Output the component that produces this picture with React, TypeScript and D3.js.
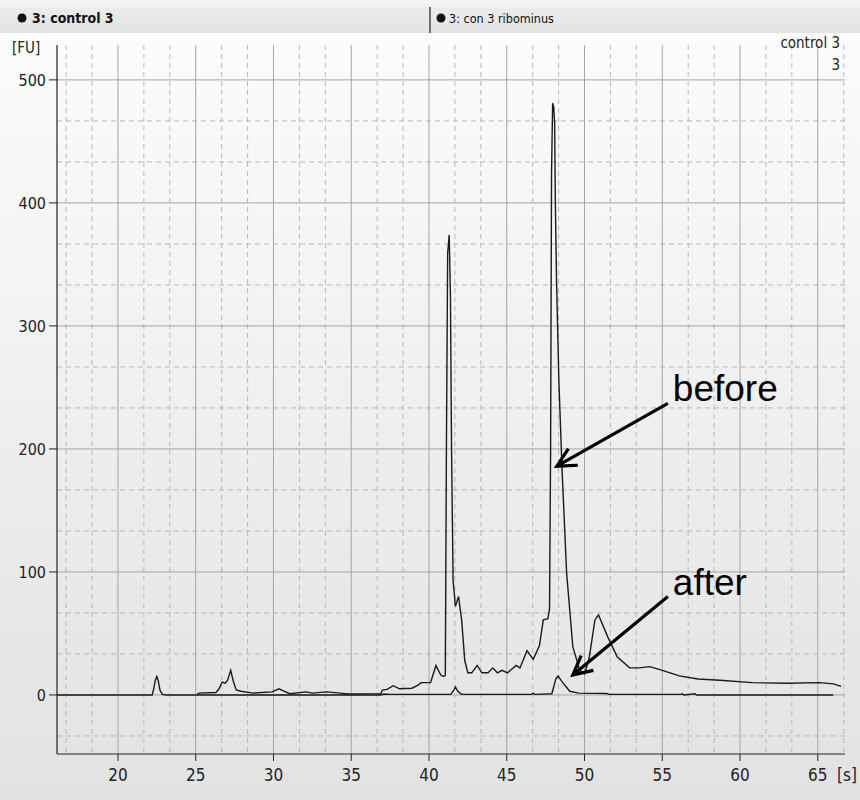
import React from "react";
import * as d3 from "d3";

// ---- data (time in s, fluorescence in FU) ----
const beforeTrace: [number, number][] = [
  [25.1, 0.5], [25.2, 1.5], [26.3, 2], [26.5, 5], [26.7, 10.5], [26.9, 9.5], [27.05, 12], [27.25, 20],
  [27.4, 12], [27.6, 4], [27.9, 3], [28.7, 1.5], [29.9, 2.5], [30.35, 5], [30.6, 3.5], [31.05, 1],
  [32.1, 2.5], [32.5, 1.5], [33.4, 2.5], [34.3, 1.5], [34.8, 0.8], [36.9, 1], [37.0, 4], [37.3, 4.5],
  [37.7, 7.5], [38.1, 5], [38.9, 5.5], [39.3, 8], [39.5, 10], [40.1, 10], [40.3, 18], [40.45, 24],
  [40.6, 20], [40.77, 16], [40.95, 15], [41.05, 16], [41.12, 200], [41.2, 359], [41.3, 374], [41.38, 324],
  [41.45, 200], [41.55, 93], [41.7, 72], [41.9, 80], [42.1, 61], [42.3, 28], [42.5, 18], [42.75, 18],
  [43.1, 24], [43.4, 18], [43.8, 18], [44.1, 22], [44.4, 18], [44.7, 20], [45.05, 18], [45.6, 24],
  [45.85, 22], [46.3, 36], [46.7, 29], [47.1, 40], [47.35, 61], [47.65, 62], [47.75, 70], [47.82, 200],
  [47.88, 424], [47.95, 481], [48.02, 478], [48.08, 465], [48.12, 405], [48.2, 337], [48.35, 256],
  [48.55, 185], [48.85, 99], [49.25, 39], [49.7, 20], [50.0, 17], [50.3, 30], [50.67, 61], [50.9, 65],
  [51.5, 47], [52.1, 31], [52.9, 22], [53.5, 22], [54.2, 23], [55.0, 20], [56.1, 15.5], [57.3, 13],
  [58.7, 12], [60.8, 10], [63.0, 9.5], [65.1, 10], [66.0, 9], [66.5, 7],
];

const afterTrace: [number, number][] = [
  [16.08, 0], [22.2, 0], [22.3, 5], [22.4, 12], [22.5, 15], [22.6, 11], [22.7, 4], [22.85, 0.5],
  [23.1, 0], [36.9, 0], [37.1, 0.8], [37.5, 0.5], [41.4, 0.5], [41.6, 4], [41.7, 6.5], [41.85, 3],
  [42.1, 0.5], [46.6, 0.5], [46.7, 1.5], [46.8, 0.5], [47.9, 1], [48.05, 8], [48.15, 13], [48.3, 15.5],
  [48.6, 10], [49.05, 3], [49.6, 1.5], [51.4, 1.2], [51.6, 0.5], [56.2, 0.5], [56.3, 1], [56.4, 0],
  [57.1, 1], [57.2, 0], [66.0, 0],
];

const xTicks = [20, 25, 30, 35, 40, 45, 50, 55, 60, 65];
const yTicks = [0, 100, 200, 300, 400, 500];
const tabLabels = ["3: control 3", "3: con 3 ribominus"];

// annotations: label, tail (s, FU), tip (s, FU)
const annotations = [
  { label: "before", tail: [55.36, 237] as [number, number], tip: [48.22, 186] as [number, number] },
  { label: "after", tail: [55.36, 80] as [number, number], tip: [49.25, 16.3] as [number, number] },
];

const W = 860;
const H = 800;

export default function App() {
  const x = d3.scaleLinear().domain([16.08, 66.75]).range([57, 845]);
  const y = d3.scaleLinear().domain([-48, 530]).range([754, 43]);
  const [x0, x1] = x.range();
  const [yb, yt] = y.range();

  const minorX: number[] = [];
  for (let k = 10; k * (5 / 3) <= 66.75; k++) {
    const v = (k * 5) / 3;
    if (k % 3 !== 0 && v > 16.08) minorX.push(v);
  }
  const minorY: number[] = [];
  for (let k = -1; (k * 100) / 3 < 530; k++) {
    if (k % 3 !== 0) minorY.push((k * 100) / 3);
  }

  const line = d3
    .line<[number, number]>()
    .x((d) => x(d[0]))
    .y((d) => y(d[1]));

  const font = "'Liberation Sans', Arial, sans-serif";
  const tickFont = "'DejaVu Sans Condensed', 'Liberation Sans', sans-serif";

  const arrowHead = (tip: [number, number], tail: [number, number]) => {
    const tx = x(tip[0]);
    const ty = y(tip[1]);
    const ang = Math.atan2(y(tail[1]) - ty, x(tail[0]) - tx);
    const len = 21;
    const spread = (27 * Math.PI) / 180;
    const p1 = [tx + len * Math.cos(ang - spread), ty + len * Math.sin(ang - spread)];
    const p2 = [tx + len * Math.cos(ang + spread), ty + len * Math.sin(ang + spread)];
    return `M${p1[0]},${p1[1]}L${tx},${ty}L${p2[0]},${p2[1]}`;
  };

  return (
    <svg width={W} height={H} style={{ position: "absolute", left: 0, top: 0 }}>
      <style>{"body{margin:0}"}</style>
      <defs>
        <linearGradient id="bg" x1="0" y1="0" x2="0" y2="1">
          <stop offset="0" stopColor="#fdfdfd" />
          <stop offset="1" stopColor="#e2e2e2" />
        </linearGradient>
        <linearGradient id="hdr" x1="0" y1="0" x2="0" y2="1">
          <stop offset="0" stopColor="#f6f6f6" />
          <stop offset="0.3" stopColor="#ebebeb" />
          <stop offset="1" stopColor="#e3e3e3" />
        </linearGradient>
      </defs>
      <rect x={0} y={0} width={W} height={H} fill="url(#bg)" />
      {/* header tabs */}
      <rect x={0} y={0} width={W} height={33} fill="url(#hdr)" />
      <line x1={430} x2={430} y1={7} y2={33} stroke="#222" strokeWidth={1.2} />
      <circle cx={22} cy={18} r={4.5} fill="#111" />
      <text x={32} y={23} fontFamily={tickFont} fontSize={14} fontWeight="bold" fill="#111">
        {tabLabels[0]}
      </text>
      <circle cx={441} cy={18} r={4.5} fill="#111" />
      <text x={449} y={23} fontFamily={tickFont} fontSize={12.5} fill="#111">
        {tabLabels[1]}
      </text>

      {/* grid */}
      {minorX.map((v) => (
        <line key={"mx" + v} x1={x(v)} x2={x(v)} y1={yt + 2} y2={yb} stroke="#b9b9b9" strokeDasharray="5,4" />
      ))}
      {minorY.map((v) => (
        <line key={"my" + v} x1={x0} x2={x1} y1={y(v)} y2={y(v)} stroke="#b9b9b9" strokeDasharray="5,4" />
      ))}
      {xTicks.map((v) => (
        <line key={"gx" + v} x1={x(v)} x2={x(v)} y1={yt + 2} y2={yb} stroke="#a5a5a5" />
      ))}
      {yTicks.map((v) => (
        <line key={"gy" + v} x1={x0} x2={x1} y1={y(v)} y2={y(v)} stroke="#a5a5a5" />
      ))}

      {/* axes */}
      <line x1={x0} x2={x0} y1={yt + 2} y2={yb} stroke="#222" strokeWidth={1.2} />
      <line x1={x0} x2={x1} y1={yb} y2={yb} stroke="#222" strokeWidth={1.2} />
      {yTicks.map((v) => (
        <g key={"yt" + v}>
          <line x1={x0 - 8} x2={x0} y1={y(v)} y2={y(v)} stroke="#222" />
          <text x={x0 - 11} y={y(v) + 6} textAnchor="end" fontFamily={tickFont} fontSize={16} fill="#222">
            {v}
          </text>
        </g>
      ))}
      {xTicks.map((v) => (
        <g key={"xt" + v}>
          <line x1={x(v)} x2={x(v)} y1={yb} y2={yb + 7} stroke="#222" />
          <text x={x(v)} y={yb + 27} textAnchor="middle" fontFamily={tickFont} fontSize={17} fill="#222">
            {v}
          </text>
        </g>
      ))}
      <text x={837} y={yb + 27} fontFamily={tickFont} fontSize={17} fill="#222">[s]</text>
      <text x={12} y={53} fontFamily={tickFont} fontSize={15} fill="#222">[FU]</text>
      <text x={840} y={48} textAnchor="end" fontFamily={tickFont} fontSize={15} fill="#222">control 3</text>
      <text x={840} y={70} textAnchor="end" fontFamily={tickFont} fontSize={15} fill="#222">3</text>

      {/* traces */}
      <path d={line(afterTrace) || ""} fill="none" stroke="#1a1a1a" strokeWidth={1.4} />
      <path d={line(beforeTrace) || ""} fill="none" stroke="#1a1a1a" strokeWidth={1.4} />

      {/* annotations */}
      {annotations.map((a) => (
        <g key={a.label}>
          <line
            x1={x(a.tail[0])}
            y1={y(a.tail[1])}
            x2={x(a.tip[0])}
            y2={y(a.tip[1])}
            stroke="#000"
            strokeWidth={3.2}
          />
          <path d={arrowHead(a.tip, a.tail)} fill="none" stroke="#000" strokeWidth={3.2} strokeLinejoin="miter" />
          <text x={x(a.tail[0]) + 5} y={y(a.tail[1]) - 2} fontFamily={font} fontSize={37} fill="#000">
            {a.label}
          </text>
        </g>
      ))}
    </svg>
  );
}
